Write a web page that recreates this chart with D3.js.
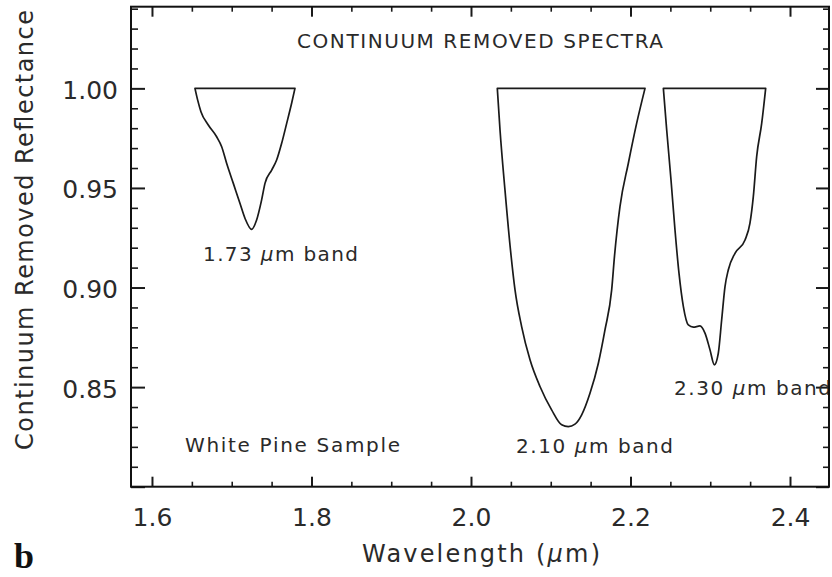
<!DOCTYPE html>
<html>
<head>
<meta charset="utf-8">
<script src="https://cdn.jsdelivr.net/npm/d3@7"></script>
<style>
  html, body { margin: 0; padding: 0; background: #fff; }
  svg { display: block; }
  text { font-family: "DejaVu Sans", sans-serif; fill: #2a2a2a; }
  text.panel { font-family: "Liberation Serif", "DejaVu Serif", serif; font-weight: bold; fill: #111; }
</style>
</head>
<body>
<svg id="chart" width="832" height="577"></svg>
<script>
// ---------------- DATA ----------------
const xDomain = [1.5737, 2.4489];
const yDomain = [0.80, 1.041];

const xMajor = [1.6, 1.8, 2.0, 2.2, 2.4];
const xTickLabels = ["1.6", "1.8", "2.0", "2.2", "2.4"];
const yMajor = [0.80, 0.85, 0.90, 0.95, 1.00];
const yTickLabels = ["", "0.85", "0.90", "0.95", "1.00"];

// 1.73 um band
const band173X = [1.6539, 1.6573, 1.6614, 1.6706, 1.6811, 1.6874, 1.6936, 1.7020, 1.7103, 1.7166, 1.7250,
                  1.7312, 1.7375, 1.7417, 1.7501, 1.7563, 1.7626, 1.7689, 1.7751, 1.7793];
const band173Y = [1.000, 0.9941, 0.9883, 0.9816, 0.9757, 0.9707, 0.9624, 0.9523, 0.9423, 0.9348, 0.9292,
                  0.9339, 0.9440, 0.9523, 0.9590, 0.9640, 0.9724, 0.9824, 0.9925, 1.000];

// 2.10 um band
const band210X = [2.0330, 2.0364, 2.0426, 2.0500, 2.0552, 2.0635, 2.0740, 2.0865, 2.1011, 2.1137, 2.1220,
                  2.1304, 2.1388, 2.1492, 2.1597, 2.1680, 2.1764, 2.1800, 2.1868, 2.1973, 2.2077, 2.2182];
const band210Y = [1.000, 0.9791, 0.9490, 0.9170, 0.8988, 0.8804, 0.8637, 0.8503, 0.8386, 0.8311, 0.8302,
                  0.8314, 0.8361, 0.8469, 0.8620, 0.8787, 0.8988, 0.9160, 0.9406, 0.9624, 0.9824, 1.000];

// 2.30 um band
const band230X = [2.2412, 2.2454, 2.2508, 2.2558, 2.2608, 2.2663, 2.2725, 2.2788, 2.2871, 2.2934, 2.2997,
                  2.3051, 2.3101, 2.3143, 2.3185, 2.3226, 2.3310, 2.3436, 2.3498, 2.3540, 2.3582, 2.3645, 2.3695];
const band230Y = [1.000, 0.9791, 0.9540, 0.9289, 0.9072, 0.8904, 0.8812, 0.8801, 0.8807, 0.8771, 0.8687,
                  0.8612, 0.8670, 0.8837, 0.9005, 0.9088, 0.9172, 0.9239, 0.9323, 0.9456, 0.9657, 0.9824, 1.000];

// ---------------- CHART ----------------
const svg = d3.select("#chart");
svg.append("rect").attr("width", 832).attr("height", 577).attr("fill", "#fff");

const frame = { left: 131, top: 6.7, right: 829, bottom: 486.7 };
const x = d3.scaleLinear().domain(xDomain).range([frame.left, frame.right]);
const y = d3.scaleLinear().domain(yDomain).range([frame.bottom, frame.top]);

const xMinor = d3.range(1.60, 2.4001, 0.05).filter(v => !xMajor.some(m => Math.abs(m - v) < 1e-6));
const yMinor = d3.range(0.81, 1.0401, 0.01).filter(v => !yMajor.some(m => Math.abs(m - v) < 1e-6));

function styleAxis(g, w) {
  g.select(".domain").remove();
  g.selectAll(".tick line").attr("stroke", "#1a1a1a").attr("stroke-width", w);
}

// bottom axis
const gB = svg.append("g").attr("transform", `translate(0,${frame.bottom})`)
  .call(d3.axisBottom(x).tickValues(xMajor).tickSize(-10).tickPadding(22)
    .tickFormat((d, i) => xTickLabels[i]));
styleAxis(gB, 2);
gB.selectAll(".tick text").attr("font-size", 25).attr("dy", "0.71em");
const gBm = svg.append("g").attr("transform", `translate(0,${frame.bottom})`)
  .call(d3.axisBottom(x).tickValues(xMinor).tickSize(-5).tickFormat(""));
styleAxis(gBm, 1.6);

// top axis
const gT = svg.append("g").attr("transform", `translate(0,${frame.top})`)
  .call(d3.axisTop(x).tickValues(xMajor).tickSize(-10).tickFormat(""));
styleAxis(gT, 2);
const gTm = svg.append("g").attr("transform", `translate(0,${frame.top})`)
  .call(d3.axisTop(x).tickValues(xMinor).tickSize(-5).tickFormat(""));
styleAxis(gTm, 1.6);

// left axis
const gL = svg.append("g").attr("transform", `translate(${frame.left},0)`)
  .call(d3.axisLeft(y).tickValues(yMajor).tickSize(-14).tickPadding(13)
    .tickFormat((d, i) => yTickLabels[i]));
styleAxis(gL, 2);
gL.selectAll(".tick text").attr("font-size", 25).attr("dy", "0.40em");
const gLm = svg.append("g").attr("transform", `translate(${frame.left},0)`)
  .call(d3.axisLeft(y).tickValues(yMinor).tickSize(-7).tickFormat(""));
styleAxis(gLm, 1.6);

// right axis
const gR = svg.append("g").attr("transform", `translate(${frame.right},0)`)
  .call(d3.axisRight(y).tickValues(yMajor).tickSize(-13).tickFormat(""));
styleAxis(gR, 2);
const gRm = svg.append("g").attr("transform", `translate(${frame.right},0)`)
  .call(d3.axisRight(y).tickValues(yMinor).tickSize(-6).tickFormat(""));
styleAxis(gRm, 1.6);

// bands
const line = d3.line().x(d => x(d[0])).y(d => y(d[1])).curve(d3.curveMonotoneX);
[[band173X, band173Y], [band210X, band210Y], [band230X, band230Y]].forEach(([bx, by]) => {
  const pts = bx.map((v, i) => [v, by[i]]);
  svg.append("path").attr("d", line(pts) + "Z")
    .attr("fill", "none").attr("stroke", "#1a1a1a").attr("stroke-width", 1.7)
    .attr("stroke-linejoin", "round");
});

// annotations
function label(txt, xd, yd, size, len) {
  const t = svg.append("text").attr("x", x(xd)).attr("y", y(yd))
    .attr("font-size", size).attr("textLength", len);
  const parts = txt.split("μ");
  t.append("tspan").text(parts[0]);
  if (parts.length > 1) {
    t.append("tspan").attr("font-style", "italic").text("μ");
    t.append("tspan").text(parts[1]);
  }
  return t;
}
label("1.73 μm band", 1.6640, 0.9133, 20, 155);
label("White Pine Sample", 1.6414, 0.8175, 20, 215);
label("2.10 μm band", 2.0564, 0.8170, 20, 157);
label("2.30 μm band", 2.2545, 0.8461, 20, 157);

// title
svg.append("text").attr("x", (frame.left + frame.right) / 2).attr("y", 48)
  .attr("text-anchor", "middle").attr("font-size", 20).attr("textLength", 366)
  .text("CONTINUUM REMOVED SPECTRA");

// axis titles
const xt = svg.append("text").attr("x", 362).attr("y", 562)
  .attr("font-size", 24).attr("textLength", 238);
xt.append("tspan").text("Wavelength (");
xt.append("tspan").attr("font-style", "italic").text("μ");
xt.append("tspan").text("m)");

svg.append("text").attr("transform", "translate(33,230) rotate(-90)")
  .attr("text-anchor", "middle").attr("font-size", 24).attr("textLength", 440)
  .text("Continuum Removed Reflectance");

// panel letter
svg.append("text").attr("class", "panel").attr("x", 14).attr("y", 568)
  .attr("font-size", 36).text("b");

// frame on top
svg.append("rect").attr("x", frame.left).attr("y", frame.top)
  .attr("width", frame.right - frame.left).attr("height", frame.bottom - frame.top)
  .attr("fill", "none").attr("stroke", "#111").attr("stroke-width", 2);
</script>
</body>
</html>
